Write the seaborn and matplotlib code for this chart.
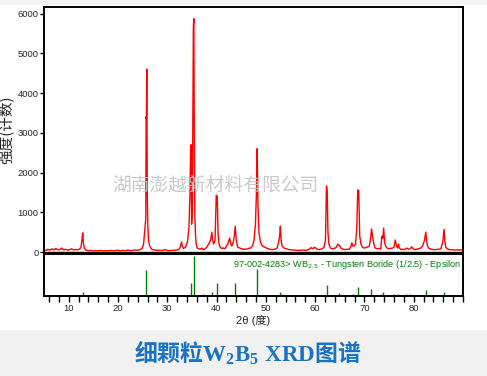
import matplotlib
matplotlib.use("Agg")
import matplotlib.pyplot as plt
import seaborn as sns
from matplotlib.ticker import MultipleLocator
from matplotlib.patches import Rectangle

# ---------------- data ----------------
two_theta = [5.0, 5.4, 5.8, 6.2, 6.6, 7.0, 7.4, 7.8, 8.2, 8.6,
             9.0, 9.4, 9.8, 10.2, 10.6, 11.0, 11.4, 11.8, 12.2, 12.5,
             12.7, 12.85, 13.0, 13.2, 13.5, 14.0, 14.5, 15.0, 15.5, 16.0,
             16.5, 17.0, 17.5, 18.0, 18.5, 19.0, 19.5, 20.0, 20.5, 21.0,
             21.5, 22.0, 22.5, 23.0, 23.5, 24.0, 24.5, 24.9, 25.2, 25.5,
             25.65, 25.72, 25.78, 25.85, 25.95, 26.05, 26.2, 26.4, 26.7, 27.0,
             27.5, 28.0, 28.5, 29.0, 29.5, 30.0, 30.5, 31.0, 31.5, 32.0,
             32.5, 32.75, 32.9, 33.05, 33.3, 33.7, 34.1, 34.4, 34.6, 34.75,
             34.85, 34.95, 35.1, 35.3, 35.4, 35.5, 35.6, 35.75, 35.9, 36.1,
             36.4, 36.7, 37.0, 37.3, 37.6, 38.0, 38.4, 38.8, 39.05, 39.2,
             39.4, 39.7, 39.95, 40.15, 40.3, 40.5, 40.8, 41.1, 41.4, 41.7,
             42.0, 42.3, 42.65, 42.9, 43.1, 43.4, 43.6, 43.8, 44.0, 44.3,
             44.7, 45.1, 45.5, 46.0, 46.5, 46.9, 47.3, 47.6, 47.9, 48.1,
             48.25, 48.4, 48.6, 48.9, 49.3, 49.8, 50.3, 50.8, 51.3, 51.8,
             52.3, 52.6, 52.8, 52.95, 53.1, 53.3, 53.7, 54.2, 54.7, 55.2,
             55.7, 56.2, 56.7, 57.2, 57.7, 58.2, 58.6, 58.9, 59.2, 59.5,
             59.9, 60.4, 60.9, 61.4, 61.8, 62.1, 62.3, 62.45, 62.6, 62.8,
             63.1, 63.5, 63.9, 64.3, 64.6, 65.0, 65.3, 65.7, 66.1, 66.5,
             66.9, 67.2, 67.45, 67.65, 67.9, 68.2, 68.45, 68.65, 68.85, 69.05,
             69.3, 69.6, 69.9, 70.3, 70.7, 71.0, 71.25, 71.45, 71.65, 71.9,
             72.2, 72.6, 73.0, 73.3, 73.55, 73.75, 73.9, 74.1, 74.3, 74.6,
             74.9, 75.3, 75.7, 76.0, 76.25, 76.5, 76.7, 76.9, 77.1, 77.4,
             77.8, 78.2, 78.5, 78.8, 79.1, 79.4, 79.6, 79.9, 80.2, 80.6,
             81.0, 81.4, 81.8, 82.2, 82.45, 82.6, 82.8, 83.1, 83.5, 84.0,
             84.5, 85.0, 85.5, 85.9, 86.15, 86.3, 86.5, 86.8, 87.2, 87.7,
             88.2, 88.7, 89.2, 89.6, 90.0]
counts = [60, 40, 70, 45, 80, 50, 90, 55, 60, 100,
          50, 70, 45, 60, 80, 50, 65, 55, 70, 120,
          300, 480, 220, 90, 50, 30, 40, 25, 35, 30,
          40, 25, 35, 30, 40, 30, 35, 45, 30, 40,
          35, 50, 35, 40, 50, 45, 60, 90, 200, 650,
          850, 3400, 3350, 4600, 1500, 700, 300, 160, 90, 60,
          50, 40, 45, 35, 60, 40, 35, 40, 45, 50,
          80, 180, 250, 150, 90, 120, 250, 600, 1400, 2650,
          2700, 700, 1200, 5670, 5870, 2500, 900, 400, 180, 100,
          80, 70, 100, 60, 70, 120, 200, 300, 500, 300,
          200, 300, 1430, 1400, 500, 200, 110, 90, 100, 80,
          150, 200, 350, 200, 150, 250, 400, 650, 300, 120,
          100, 80, 70, 70, 90, 100, 150, 300, 700, 1500,
          2600, 1200, 500, 250, 150, 120, 90, 70, 60, 70,
          100, 250, 400, 650, 300, 150, 100, 80, 60, 55,
          50, 45, 40, 45, 50, 40, 60, 80, 110, 80,
          120, 70, 60, 80, 120, 300, 1660, 1550, 500, 200,
          100, 80, 90, 120, 200, 150, 90, 70, 60, 70,
          65, 120, 230, 150, 150, 200, 600, 1560, 1550, 400,
          200, 120, 100, 110, 130, 150, 350, 580, 400, 200,
          100, 80, 90, 70, 400, 350, 600, 250, 150, 100,
          80, 90, 100, 120, 300, 150, 100, 200, 100, 60,
          70, 60, 100, 80, 70, 100, 130, 80, 60, 70,
          80, 100, 150, 300, 500, 300, 150, 90, 70, 60,
          60, 70, 80, 250, 570, 300, 120, 80, 60, 60,
          50, 55, 50, 55, 50]

ref_pos = [12.9, 25.7, 34.8, 35.4, 37.2, 39.1, 40.1, 43.8, 48.2, 52.8, 53.2, 62.4, 64.8,
           67.7, 68.7, 71.4, 73.4, 73.8, 76.0, 76.8, 78.5, 79.2, 82.5, 86.1]
ref_rel = [10, 64, 31, 100, 3, 8, 33, 31, 68, 8, 5, 26, 6,
           3, 23, 18, 3, 10, 5, 3, 3, 5, 15, 10]

x_major = [10, 20, 30, 40, 50, 60, 70, 80]
y_major = [0, 1000, 2000, 3000, 4000, 5000, 6000]

ref_label = r"97-002-4283> WB$_{2.5}$ - Tungsten Boride (1/2.5) - Epsilon"
y_label = "强度(计数)"
x_label = "2θ (度)"
watermark = "湖南澎越新材料有限公司"
title = r"细颗粒$\mathbf{W_2B_5\ XRD}$图谱"

# ---------------- style ----------------
sns.set_theme(style="white")
plt.rcParams['font.family'] = ['Liberation Sans', 'Noto Sans CJK SC', 'DejaVu Sans']
plt.rcParams['mathtext.fontset'] = 'custom'
plt.rcParams['mathtext.rm'] = 'Liberation Serif:bold'
plt.rcParams['mathtext.bf'] = 'Liberation Serif:bold'
plt.rcParams['mathtext.it'] = 'Liberation Serif:bold'

W, H = 487, 376
fig = plt.figure(figsize=(W / 100, H / 100), dpi=100)
fig.patch.set_facecolor('white')

fig.patches.append(Rectangle((0, 0), 1, 46 / H, transform=fig.transFigure,
                             facecolor='#f1f1f1', edgecolor='none', zorder=0))
fig.patches.append(Rectangle((0, 1 - 5 / H), 1, 5 / H, transform=fig.transFigure,
                             facecolor='#f4f4f4', edgecolor='none', zorder=0))

left = 44 / W
width = (463 - 44) / W
ax = fig.add_axes([left, 1 - 253 / H, width, (253 - 7) / H])
ax2 = fig.add_axes([left, 1 - 296 / H, width, (296 - 254) / H])

sns.lineplot(x=two_theta, y=counts, ax=ax, color='#ff0000', lw=1.0, estimator=None)
ax.set_xlim(5, 90)
ax.set_ylim(-25, 6165)
ax.set_yticks(y_major)
ax.set_yticklabels([str(v) for v in y_major], fontsize=6.8)
ax.set_xticks([])
ax.axhline(0, color='black', lw=1.0, zorder=0)
ax.tick_params(axis='y', direction='out', length=3, width=1, color='black', pad=1, left=True)
ax.set_ylabel(y_label, family=['Noto Sans CJK SC'], fontsize=10.5, labelpad=2)
ax.set_xlabel('')

ax2.vlines(ref_pos, 0, ref_rel, color='#008000', lw=1.0)
ax2.set_xlim(5, 90)
ax2.set_ylim(-1, 106)
ax2.set_yticks([])
ax2.set_xticks(x_major)
ax2.set_xticklabels([str(v) for v in x_major], fontsize=6.8)
ax2.xaxis.set_minor_locator(MultipleLocator(2))
ax2.tick_params(axis='x', which='both', direction='out', length=4, width=1,
                color='black', pad=2, bottom=True)
ax2.set_xlabel(x_label, family=['Liberation Sans', 'Noto Sans CJK SC'], fontsize=8, labelpad=1)
ax2.text(0.995, 0.76, ref_label, transform=ax2.transAxes, ha='right', va='center',
         color='#008000', fontsize=6.6, math_fontfamily='dejavusans')

for a in (ax, ax2):
    for s in a.spines.values():
        s.set_color('black')
        s.set_linewidth(1.4)
        s.set_visible(True)

fig.text(215 / W, 1 - 185 / H, watermark, ha='center', va='center',
         family=['Noto Sans CJK SC'], fontsize=13.5, color='#c4c4c4', alpha=0.9, zorder=10)

fig.text(248 / W, 1 - 353 / H, title, ha='center', va='center',
         family=['Noto Sans CJK SC'], fontweight='bold', fontsize=16.5, color='#1a72c2')

fig.savefig('out.png', dpi=100)
